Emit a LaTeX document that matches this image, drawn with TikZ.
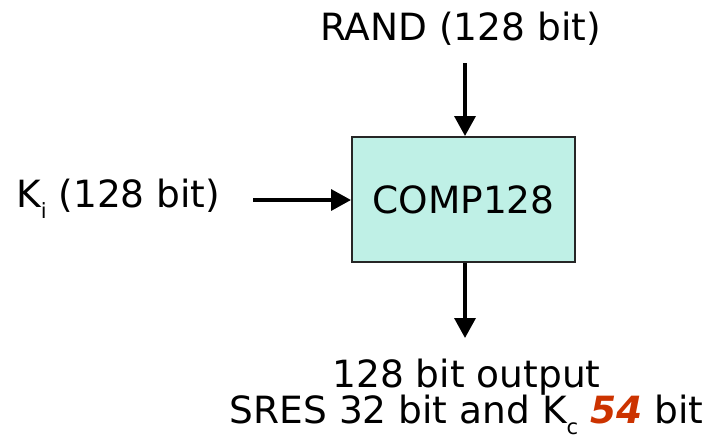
\documentclass[tikz,border=0pt]{standalone}
\usepackage{fontspec}
\setmainfont{DejaVu Sans}
\usetikzlibrary{arrows.meta}
\definecolor{boxfill}{RGB}{191,240,230}
\definecolor{accent}{RGB}{204,51,0}
\newcommand{\sub}[1]{\raisebox{-0.3em}{\fontsize{21}{21}\selectfont #1}}
\begin{document}
\begin{tikzpicture}[x=1pt,y=-1pt,
  lbl/.style={font=\fontsize{37.5}{40}\selectfont, inner sep=0pt, anchor=base},
  box/.style={draw=black!85, line width=2pt, fill=boxfill, minimum width=223pt, minimum height=125pt, inner sep=0pt, font=\fontsize{37.5}{40}\selectfont},
  conn/.style={line width=3.5pt, -{Triangle[length=20pt,width=21pt]}}]
\useasboundingbox (0,0) rectangle (711,440);
\node[box] (comp) at (463.5,199.5) {COMP128};
\node[lbl] (rand) at (460.5,40) {RAND (128 bit)};
\node[lbl, anchor=base west] (ki) at (16,207) {K\sub{i} (128 bit)};
\node[lbl] (out1) at (466.5,387) {128 bit output};
\node[lbl] (out2) at (466.5,423) {SRES 32 bit and K\sub{c} \textcolor{accent}{\textbf{\textit{54}}} bit};
\coordinate (rin) at (465,63);
\coordinate (kin) at (253,200);
\coordinate (oout) at (465,338);
\draw[conn] (rin) -- (rin |- comp.north);
\draw[conn] (kin) -- (comp.west |- kin);
\draw[conn] (comp.south -| oout) -- (oout);
\end{tikzpicture}
\end{document}
